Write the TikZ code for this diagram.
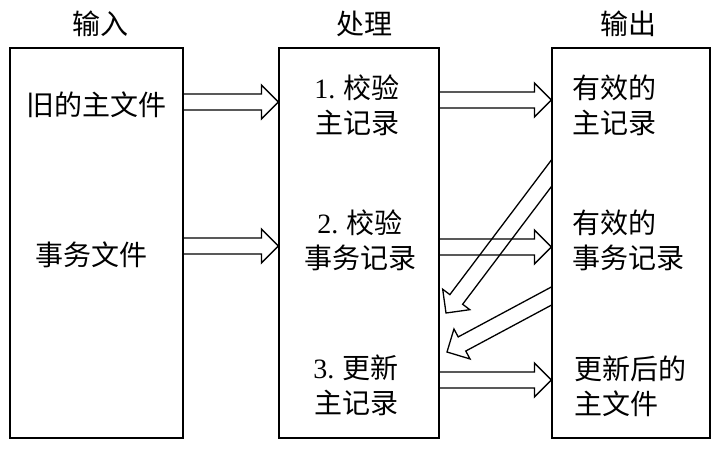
\documentclass[tikz,border=0pt]{standalone}
\usepackage{fontspec}
\setmainfont{Liberation Serif}
\newfontfamily\cjk{Noto Sans CJK SC}
\usetikzlibrary{calc,positioning}
\tikzset{
    column/.style={
      rectangle,
      draw=black, line width=1.2pt,
      minimum width=#1,
      minimum height=390pt,
      inner sep=0pt},
    header/.style={font=\fontsize{28}{35}\selectfont\cjk, inner sep=0pt},
    entry/.style={font=\fontsize{28}{35}\selectfont\cjk, inner sep=0pt, align=center},
    leftentry/.style={entry, anchor=west, align=left},
    fatline/.style={draw=black, line width=1.3pt, line join=miter},
}
% hollow block arrow from #1 to #2
\newcommand{\fatarrow}[2]{%
  \draw[fatline] let \p1=(#1), \p2=(#2),
      \n1={atan2(\y2-\y1,\x2-\x1)}, \n2={veclen(\x2-\x1,\y2-\y1)-17pt} in
    ($(\p1)+(\n1+90:8pt)$) -- ($(\p1)+(\n1:\n2)+(\n1+90:8pt)$)
    -- ($(\p1)+(\n1:\n2)+(\n1+90:17pt)$) -- (\p2)
    -- ($(\p1)+(\n1:\n2)+(\n1-90:17pt)$) -- ($(\p1)+(\n1:\n2)+(\n1-90:8pt)$)
    -- ($(\p1)+(\n1-90:8pt)$);
}

\begin{document}
\begin{tikzpicture}[x=1pt,y=-1pt]
    \useasboundingbox (0,0) rectangle (722,450);

    \node[header] (inHead)   at (100,24) {输入};
    \node[header] (procHead) at (364,24) {处理};
    \node[header] (outHead)  at (628,24) {输出};

    \node[column=173pt] (inBox)   at (96.5,243) {};
    \node[column=160pt] (procBox) at (359,243) {};
    \node[column=158pt] (outBox)  at (631,243) {};

    \node[entry] (oldFile)   at (96,104.5) {旧的主文件};
    \node[entry] (transFile) at (91.5,254.5) {事务文件};

    \node[entry] (checkMaster) at (357,105) {{\rmfamily 1.} 校验\\主记录};
    \node[entry] (checkTrans)  at (360,240) {{\rmfamily 2.} 校验\\事务记录};
    \node[entry] (update)      at (356,385) {{\rmfamily 3.} 更新\\主记录};

    \node[leftentry] (validMaster) at (572,105) {有效的\\主记录};
    \node[leftentry] (validTrans)  at (572,240) {有效的\\事务记录};
    \node[leftentry] (newMaster)   at (574,386.5) {更新后的\\主文件};

    \fatarrow{inBox.east|-0,102}{procBox.west|-0,102}
    \fatarrow{inBox.east|-0,246}{procBox.west|-0,246}
    \fatarrow{procBox.east|-0,100}{outBox.west|-0,100}
    \fatarrow{procBox.east|-0,247}{outBox.west|-0,247}
    \fatarrow{procBox.east|-0,380}{outBox.west|-0,380}

    % feedback arrows, cut off at the output column
    \coordinate (masterBack) at (572,146);
    \coordinate (transBack)  at (572,285);
    \coordinate (updateIn1)  at (446,313);
    \coordinate (updateIn2)  at (447,352);
    \begin{scope}
        \clip (procBox.north east) rectangle (outBox.south west);
        \fatarrow{masterBack}{updateIn1}
        \fatarrow{transBack}{updateIn2}
    \end{scope}
\end{tikzpicture}
\end{document}
